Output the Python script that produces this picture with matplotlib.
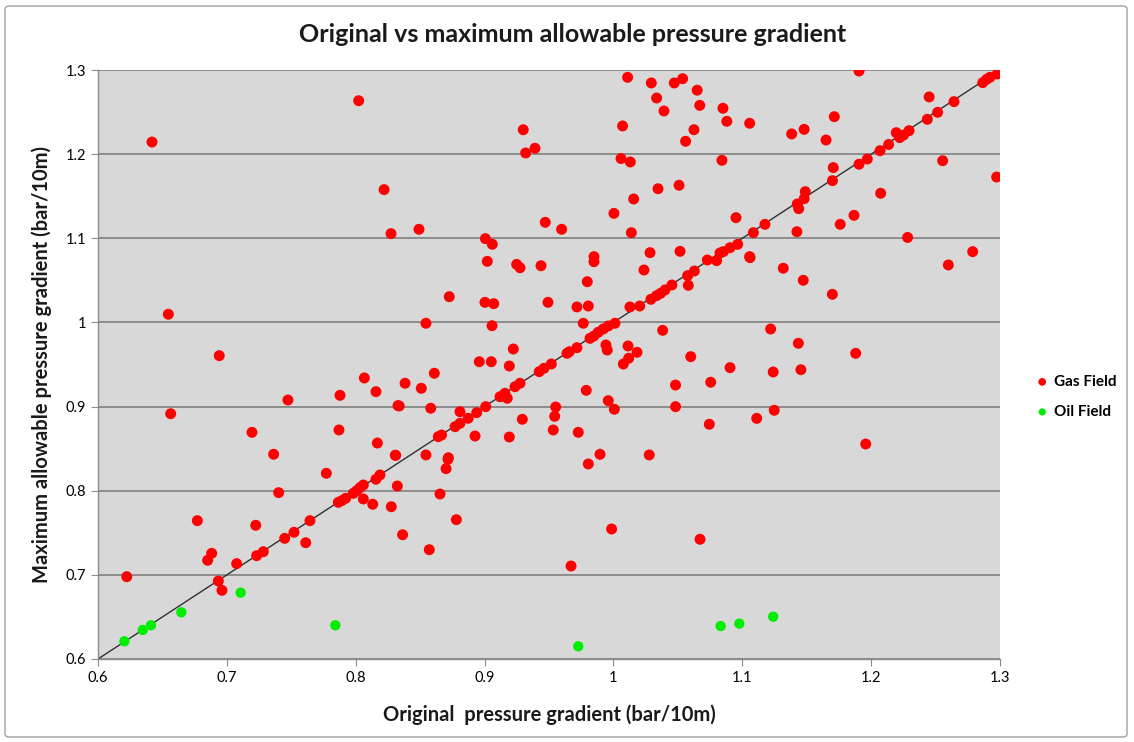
import matplotlib
matplotlib.use("Agg")
import matplotlib.pyplot as plt
from matplotlib.ticker import FuncFormatter
from matplotlib.patches import FancyBboxPatch

plt.rcParams['font.family'] = ['Lato', 'DejaVu Sans']

gas_x = [0.6419, 0.8023, 0.822, 0.8274, 0.8491, 0.930, 0.9319, 0.9391, 0.9471, 0.9598,
         1.0071, 1.011, 1.0059, 1.0131, 1.0157, 1.0139, 1.0294, 1.0335, 1.0392, 1.0472,
         1.0537, 1.065, 1.0625, 1.067, 1.056, 1.0509, 1.0346, 1.085, 1.088, 1.0842,
         1.1057, 1.0951, 1.1383, 1.148, 1.1714, 1.165, 1.1906, 1.245, 1.2643, 1.2516,
         1.2436, 1.2866, 1.2897, 1.2922, 1.2979, 1.2195, 1.2221, 1.2252, 1.2294, 1.2136,
         1.2069, 1.197, 1.1906, 1.2555, 1.2974, 1.1706, 1.170, 1.1489, 1.148, 1.1427,
         1.1438, 1.2074, 1.1867, 1.176, 1.1424, 1.1176, 1.1086, 1.0964, 1.0905, 1.0853,
         1.0827, 1.1057, 1.2283, 1.2788, 1.0729, 1.0801, 1.0004, 0.9006, 0.906, 1.0284,
         1.0517, 0.9849, 0.9849, 0.9021, 0.9249, 0.9275, 0.9438,
         0.6546, 0.6941, 0.6564, 0.7474, 0.7195, 0.7363, 0.7878, 0.787, 0.8067, 0.8157,
         0.8328, 0.8168, 0.831,
         0.9797, 1.0237, 1.0576, 1.0628, 1.0581, 0.8726, 0.9003, 0.9071, 0.9492, 0.9717,
         0.9805, 1.0128, 1.0204, 1.0291, 1.0335, 1.0366, 1.04, 1.0454, 0.8545, 0.9058,
         0.9766, 0.9818, 0.9849, 0.9882, 0.9921, 0.996, 1.0012, 1.0382, 0.9942, 0.9952,
         1.0113, 1.0183, 1.0118, 1.0077, 1.06, 0.9717, 0.964, 0.9658, 0.9518, 0.9461,
         0.9424, 0.9275, 0.9236, 0.9223, 0.8959, 0.9052, 0.9192, 0.861, 0.8383, 0.8509,
         0.8338, 0.8582, 0.912, 0.9158, 0.9176, 0.9009, 0.8939, 0.8873, 0.8809, 0.8809,
         0.8771, 0.8666, 0.8641, 0.8926, 0.9192, 0.9293, 0.9552, 0.9544, 0.9533, 0.9727,
         0.9789, 0.996, 1.0007, 1.0482, 1.0482, 0.9896, 1.0278, 0.8545, 0.8719,
         1.2599, 1.1318, 1.1473, 1.1699, 1.106, 1.122, 1.1435, 1.188, 1.0905, 1.124,
         1.1455, 1.0755, 1.0744, 1.1112, 1.1248, 1.1958,
         0.7772, 0.7402, 0.6771, 0.7224, 0.6882, 0.6851, 0.7076, 0.6223, 0.6934, 0.6962,
         0.7231, 0.7283, 0.7449, 0.7521, 0.7645, 0.7612, 0.7865, 0.7891, 0.7922, 0.7981,
         0.8008, 0.8033, 0.8059, 0.8157, 0.8188, 0.8059, 0.8132, 0.8276, 0.8307, 0.8323,
         0.8716, 0.8701, 0.8654, 0.8781, 0.8364, 0.8571, 0.9805, 0.9986, 0.9671, 1.0672]
gas_y = [1.2144, 1.2635, 1.1578, 1.1055, 1.1107, 1.229, 1.2014, 1.207, 1.119, 1.1107,
         1.2335, 1.2913, 1.1948, 1.1907, 1.1467, 1.1067, 1.2846, 1.2667, 1.2513, 1.2846,
         1.2897, 1.276, 1.229, 1.258, 1.2153, 1.163, 1.1589, 1.2545, 1.239, 1.1927,
         1.2367, 1.1245, 1.224, 1.2295, 1.2445, 1.2168, 1.2988, 1.268, 1.2624, 1.2497,
         1.2414, 1.285, 1.289, 1.2913, 1.2953, 1.2255, 1.2196, 1.2228, 1.2279, 1.2115,
         1.2041, 1.1942, 1.188, 1.1922, 1.1728, 1.184, 1.1685, 1.1554, 1.147, 1.1408,
         1.1352, 1.1535, 1.1273, 1.1166, 1.1078, 1.1166, 1.1067, 1.0928, 1.0888, 1.0841,
         1.0825, 1.0782, 1.101, 1.0841, 1.0742, 1.0734, 1.1296, 1.0996, 1.0929, 1.0829,
         1.0845, 1.0782, 1.0722, 1.0726, 1.069, 1.065, 1.0674,
         1.0097, 0.9605, 0.8915, 0.9078, 0.8694, 0.8433, 0.9134, 0.8722, 0.934, 0.9177,
         0.9011, 0.8567, 0.8421,
         1.0484, 1.0623, 1.0556, 1.0611, 1.0441, 1.0306, 1.0239, 1.0223, 1.0239, 1.0184,
         1.0195, 1.0184, 1.0195, 1.0275, 1.0318, 1.0346, 1.0386, 1.0445, 0.999, 0.9961,
         0.999, 0.9811, 0.9839, 0.9883, 0.9922, 0.9958, 0.999, 0.9906, 0.9732, 0.9672,
         0.972, 0.9645, 0.9574, 0.9506, 0.9593, 0.970, 0.9633, 0.9652, 0.9506, 0.9455,
         0.9415, 0.9277, 0.9236, 0.9684, 0.9533, 0.9533, 0.9482, 0.9396, 0.9277, 0.9217,
         0.9007, 0.898, 0.9117, 0.9158, 0.9099, 0.8999, 0.8928, 0.8861, 0.8939, 0.8801,
         0.8761, 0.8662, 0.8642, 0.865, 0.8638, 0.8849, 0.8995, 0.8884, 0.8722, 0.8694,
         0.9193, 0.907, 0.8968, 0.9256, 0.8999, 0.8433, 0.8425, 0.8425, 0.8392,
         1.0683, 1.0644, 1.0501, 1.0334, 1.077, 0.9922, 0.9752, 0.9633, 0.9463, 0.9411,
         0.9438, 0.9289, 0.879, 0.886, 0.8956, 0.8555,
         0.8207, 0.7977, 0.7644, 0.7589, 0.7256, 0.7173, 0.7133, 0.6978, 0.6927, 0.6816,
         0.7228, 0.7275, 0.7434, 0.7506, 0.7644, 0.7382, 0.7862, 0.7881, 0.791, 0.7969,
         0.8, 0.8036, 0.8068, 0.8136, 0.8187, 0.7902, 0.7839, 0.781, 0.8421, 0.8056,
         0.8373, 0.8262, 0.7961, 0.7656, 0.7477, 0.7299, 0.8318, 0.7545, 0.7105, 0.7423]

oil_x = [0.6205, 0.6347, 0.6411, 0.6647, 0.7107, 0.7842, 0.9727, 1.0832, 1.0977, 1.124]
oil_y = [0.621, 0.6345, 0.6401, 0.6555, 0.6788, 0.6401, 0.6151, 0.6392, 0.642, 0.6503]

line_xy = [0.6, 1.3]
ticks = [0.6, 0.7, 0.8, 0.9, 1.0, 1.1, 1.2, 1.3]

W, H = 1134, 742
fig = plt.figure(figsize=(W / 100, H / 100), dpi=100)
fig.patch.set_facecolor('white')
border = FancyBboxPatch((5 / W, 5 / H), 1122 / W, 731 / H,
                        boxstyle="round,pad=0,rounding_size=0.004",
                        transform=fig.transFigure, fill=False,
                        edgecolor='#a0a0a0', linewidth=1.0)
fig.patches.append(border)

ax = fig.add_axes([98 / W, (H - 659) / H, 902 / W, 589 / H])
ax.set_facecolor('#d8d8d8')
ax.set_xlim(0.6, 1.3)
ax.set_ylim(0.6, 1.3)
ax.set_xticks(ticks)
ax.set_yticks(ticks)
fmt = FuncFormatter(lambda v, p: ('%.1f' % v).rstrip('0').rstrip('.') if abs(v - 1) > 1e-9 else '1')
ax.xaxis.set_major_formatter(fmt)
ax.yaxis.set_major_formatter(fmt)
ax.grid(axis='y', color='#808080', linewidth=1.2)
ax.grid(axis='x', visible=False)
ax.set_axisbelow(True)
for s in ['top', 'right']:
    ax.spines[s].set_visible(False)
for s in ['left', 'bottom']:
    ax.spines[s].set_color('#8c8c8c')
    ax.spines[s].set_linewidth(1.0)
ax.tick_params(axis='both', direction='out', length=5, color='#8c8c8c',
               labelsize=10.5, labelcolor='black')

ax.plot(line_xy, line_xy, color='#303030', linewidth=1.0, zorder=2)
ax.scatter(gas_x, gas_y, s=62, color='#ff0000', edgecolors='none', zorder=3, label='Gas Field')
ax.scatter(oil_x, oil_y, s=55, color='#00ee00', edgecolors='none', zorder=3, label='Oil Field')

ax.set_title('Original vs maximum allowable pressure gradient', fontsize=18,
             fontweight='bold', pad=20, x=0.526, color='#1a1a1a')
ax.set_xlabel('Original  pressure gradient (bar/10m)', fontsize=14.5, fontweight='bold',
              labelpad=14, color='#1a1a1a')
ax.set_ylabel('Maximum allowable pressure gradient (bar/10m)', fontsize=14.5,
              fontweight='bold', labelpad=10, color='#1a1a1a')

leg = ax.legend(loc='center left', bbox_to_anchor=(1.04, 0.445), frameon=False,
                markerscale=0.7, handlelength=0.8, handletextpad=0.4, labelspacing=1.05,
                borderaxespad=0.0, borderpad=0.0,
                prop={'size': 11, 'weight': 'bold'})

fig.savefig('out.png', dpi=100, facecolor='white')
